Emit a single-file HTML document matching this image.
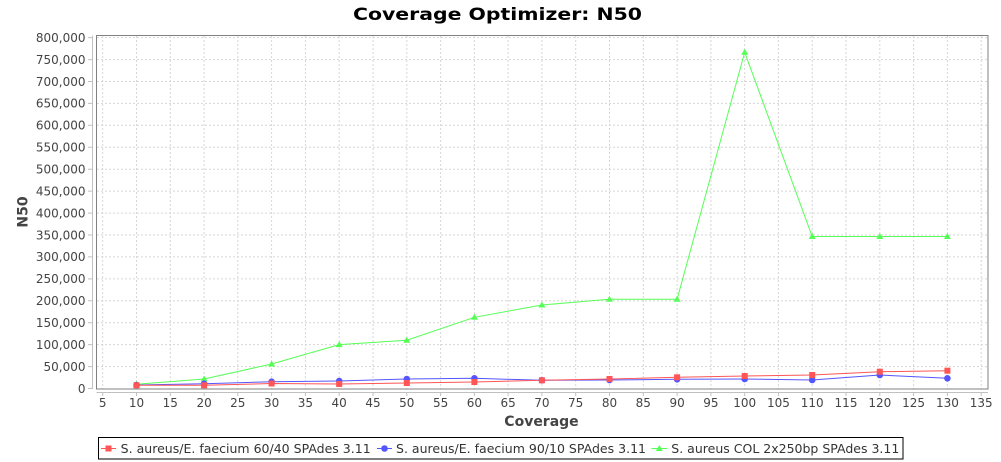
<!DOCTYPE html>
<html><head><meta charset="utf-8"><style>
html,body{margin:0;padding:0;background:#fff;}
svg{display:block;}
text{font-family:"DejaVu Sans","Liberation Sans",sans-serif;}
</style></head><body>
<svg width="1001" height="462" viewBox="0 0 1001 462" xmlns="http://www.w3.org/2000/svg">
<rect width="1001" height="462" fill="#fff"/>
<text x="497.5" y="20" font-size="16.5" font-weight="bold" text-anchor="middle" textLength="289" lengthAdjust="spacingAndGlyphs" fill="#000">Coverage Optimizer: N50</text>
<rect x="96.5" y="35.5" width="891.5" height="353.5" fill="#fff"/>
<g stroke="#d6d6d6" stroke-width="1" stroke-dasharray="2,2" fill="none">
<path d="M102.7 36V389M136.5 36V389M170.3 36V389M204.1 36V389M237.8 36V389M271.6 36V389M305.4 36V389M339.2 36V389M373.0 36V389M406.8 36V389M440.6 36V389M474.4 36V389M508.1 36V389M541.9 36V389M575.7 36V389M609.5 36V389M643.3 36V389M677.1 36V389M710.9 36V389M744.7 36V389M778.4 36V389M812.2 36V389M846.0 36V389M879.8 36V389M913.6 36V389M947.4 36V389M981.2 36V389"/>
<path d="M97 366.6H988M97 344.6H988M97 322.7H988M97 300.8H988M97 278.9H988M97 256.9H988M97 235.0H988M97 213.1H988M97 191.1H988M97 169.2H988M97 147.3H988M97 125.3H988M97 103.4H988M97 81.5H988M97 59.6H988M97 37.6H988"/>
</g>
<rect x="96.5" y="35.5" width="891.5" height="353.5" fill="none" stroke="#808080" stroke-width="1"/>
<g stroke="#c0c0c0" stroke-width="1" fill="none">
<path d="M92.5 35.5V389M96.5 392.5H988"/>
<path d="M88 388.5H92.5M88 366.6H92.5M88 344.6H92.5M88 322.7H92.5M88 300.8H92.5M88 278.9H92.5M88 256.9H92.5M88 235.0H92.5M88 213.1H92.5M88 191.1H92.5M88 169.2H92.5M88 147.3H92.5M88 125.3H92.5M88 103.4H92.5M88 81.5H92.5M88 59.6H92.5M88 37.6H92.5"/>
<path d="M102.7 392.5V396M136.5 392.5V396M170.3 392.5V396M204.1 392.5V396M237.8 392.5V396M271.6 392.5V396M305.4 392.5V396M339.2 392.5V396M373.0 392.5V396M406.8 392.5V396M440.6 392.5V396M474.4 392.5V396M508.1 392.5V396M541.9 392.5V396M575.7 392.5V396M609.5 392.5V396M643.3 392.5V396M677.1 392.5V396M710.9 392.5V396M744.7 392.5V396M778.4 392.5V396M812.2 392.5V396M846.0 392.5V396M879.8 392.5V396M913.6 392.5V396M947.4 392.5V396M981.2 392.5V396"/>
</g>
<g font-size="12" fill="#444" text-anchor="end">
<text x="85.5" y="392.8">0</text>
<text x="85.5" y="370.9">50,000</text>
<text x="85.5" y="348.9">100,000</text>
<text x="85.5" y="327.0">150,000</text>
<text x="85.5" y="305.1">200,000</text>
<text x="85.5" y="283.2">250,000</text>
<text x="85.5" y="261.2">300,000</text>
<text x="85.5" y="239.3">350,000</text>
<text x="85.5" y="217.4">400,000</text>
<text x="85.5" y="195.4">450,000</text>
<text x="85.5" y="173.5">500,000</text>
<text x="85.5" y="151.6">550,000</text>
<text x="85.5" y="129.6">600,000</text>
<text x="85.5" y="107.7">650,000</text>
<text x="85.5" y="85.8">700,000</text>
<text x="85.5" y="63.9">750,000</text>
<text x="85.5" y="41.9">800,000</text>
</g>
<g font-size="12" fill="#444" text-anchor="middle">
<text x="102.7" y="407">5</text><text x="136.5" y="407">10</text><text x="170.3" y="407">15</text><text x="204.1" y="407">20</text><text x="237.8" y="407">25</text><text x="271.6" y="407">30</text><text x="305.4" y="407">35</text><text x="339.2" y="407">40</text><text x="373.0" y="407">45</text><text x="406.8" y="407">50</text><text x="440.6" y="407">55</text><text x="474.4" y="407">60</text><text x="508.1" y="407">65</text><text x="541.9" y="407">70</text><text x="575.7" y="407">75</text><text x="609.5" y="407">80</text><text x="643.3" y="407">85</text><text x="677.1" y="407">90</text><text x="710.9" y="407">95</text><text x="744.7" y="407">100</text><text x="778.4" y="407">105</text><text x="812.2" y="407">110</text><text x="846.0" y="407">115</text><text x="879.8" y="407">120</text><text x="913.6" y="407">125</text><text x="947.4" y="407">130</text><text x="981.2" y="407">135</text>
</g>
<text x="541.5" y="426" font-size="14" font-weight="bold" fill="#444" text-anchor="middle">Coverage</text>
<text transform="translate(27.5,212) rotate(-90)" x="0" y="0" font-size="14" font-weight="bold" fill="#444" text-anchor="middle">N50</text>
<g fill="none" stroke-width="1">
<polyline stroke="#55ff55" points="136.5,384.3 204.1,379 271.6,364 339.2,344.6 406.8,340.2 474.4,317.3 541.9,305 609.5,299.3 677.1,299.3 744.7,52.3 812.2,236.5 879.8,236.5 947.4,236.5"/>
<polyline stroke="#5555ff" points="136.5,385 204.1,383.7 271.6,381.7 339.2,381 406.8,379 474.4,378.3 541.9,380.3 609.5,380 677.1,379.3 744.7,379 812.2,380 879.8,375 947.4,378.3"/>
<polyline stroke="#ff5555" points="136.5,385.3 204.1,385.3 271.6,383.5 339.2,384 406.8,383 474.4,382 541.9,380.3 609.5,379 677.1,377.3 744.7,376 812.2,375 879.8,371.7 947.4,370.7"/>
</g>
<g fill="#55ff55">
<path d="M136.5 380.8l3.5 6h-7z"/><path d="M204.1 375.5l3.5 6h-7z"/><path d="M271.6 360.5l3.5 6h-7z"/><path d="M339.2 341.1l3.5 6h-7z"/><path d="M406.8 336.7l3.5 6h-7z"/><path d="M474.4 313.8l3.5 6h-7z"/><path d="M541.9 301.5l3.5 6h-7z"/><path d="M609.5 295.8l3.5 6h-7z"/><path d="M677.1 295.8l3.5 6h-7z"/><path d="M744.7 48.8l3.5 6h-7z"/><path d="M812.2 233l3.5 6h-7z"/><path d="M879.8 233l3.5 6h-7z"/><path d="M947.4 233l3.5 6h-7z"/>
</g>
<g fill="#5555ff">
<circle cx="136.5" cy="385" r="3.3"/><circle cx="204.1" cy="383.7" r="3.3"/><circle cx="271.6" cy="381.7" r="3.3"/><circle cx="339.2" cy="381" r="3.3"/><circle cx="406.8" cy="379" r="3.3"/><circle cx="474.4" cy="378.3" r="3.3"/><circle cx="541.9" cy="380.3" r="3.3"/><circle cx="609.5" cy="380" r="3.3"/><circle cx="677.1" cy="379.3" r="3.3"/><circle cx="744.7" cy="379" r="3.3"/><circle cx="812.2" cy="380" r="3.3"/><circle cx="879.8" cy="375" r="3.3"/><circle cx="947.4" cy="378.3" r="3.3"/>
</g>
<g fill="#ff5555">
<rect x="133.5" y="382.3" width="6" height="6"/><rect x="201.1" y="382.3" width="6" height="6"/><rect x="268.6" y="380.5" width="6" height="6"/><rect x="336.2" y="381" width="6" height="6"/><rect x="403.8" y="380" width="6" height="6"/><rect x="471.4" y="379" width="6" height="6"/><rect x="538.9" y="377.3" width="6" height="6"/><rect x="606.5" y="376" width="6" height="6"/><rect x="674.1" y="374.3" width="6" height="6"/><rect x="741.7" y="373" width="6" height="6"/><rect x="809.2" y="372" width="6" height="6"/><rect x="876.8" y="368.7" width="6" height="6"/><rect x="944.4" y="367.7" width="6" height="6"/>
</g>
<rect x="98.5" y="437.5" width="804.5" height="21.5" fill="#fff" stroke="#000" stroke-width="1"/>
<path d="M101 448.5H116" stroke="#ff5555" stroke-width="1"/>
<rect x="105.5" y="445.5" width="6" height="6" fill="#ff5555"/>
<text x="120.7" y="453" font-size="12.5" fill="#333" textLength="250" lengthAdjust="spacingAndGlyphs">S. aureus/E. faecium 60/40 SPAdes 3.11</text>
<path d="M377 448.5H392" stroke="#5555ff" stroke-width="1"/>
<circle cx="384.5" cy="448.5" r="3.3" fill="#5555ff"/>
<text x="396" y="453" font-size="12.5" fill="#333" textLength="250" lengthAdjust="spacingAndGlyphs">S. aureus/E. faecium 90/10 SPAdes 3.11</text>
<path d="M651.5 448.5H667" stroke="#55ff55" stroke-width="1"/>
<path d="M659.3 445l3.5 6h-7z" fill="#55ff55"/>
<text x="671.3" y="453" font-size="12.5" fill="#333" textLength="228" lengthAdjust="spacingAndGlyphs">S. aureus COL 2x250bp SPAdes 3.11</text>
</svg>
</body></html>
